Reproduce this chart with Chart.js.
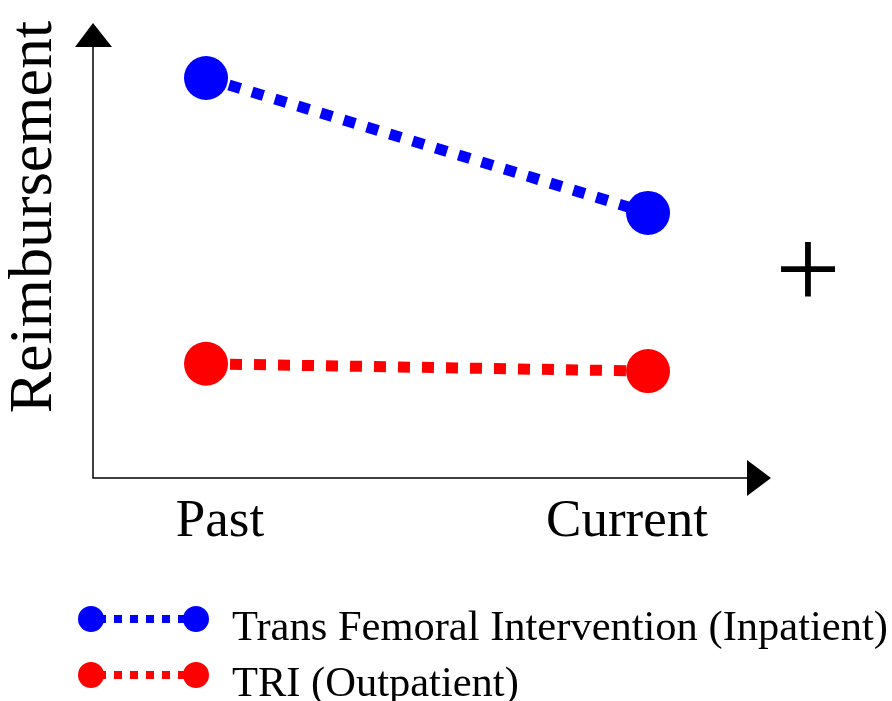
<!DOCTYPE html>
<html>
<head>
<meta charset="utf-8">
<script src="https://cdn.jsdelivr.net/npm/chart.js@4.4.1/dist/chart.umd.min.js"></script>
<style>
  html, body { margin: 0; padding: 0; background: #fff; }
  #wrap { width: 892px; height: 701px; position: relative; }
</style>
</head>
<body>
<div id="wrap"><canvas id="chart"></canvas></div>
<script>
// data (no units on the axis, relative level 0-100)
var categories = ["Past", "Current"]
var femoralValues = [92.8, 61.5]
var triValues = [26.5, 24.8]
var seriesNames = ["Trans Femoral Intervention (Inpatient)", "TRI (Outpatient)"]
var seriesColors = ["#0000ff", "#ff0000"]
var yTitle = "Reimbursement"

var FONT = "'Liberation Serif', 'Times New Roman', serif"

function toPoints(vals){
    return vals.map(function(v, i){ return { x: i, y: v } })
}

// axes with arrows, labels, plus sign and legend
var decor = {
    id: "decor",
    afterDraw: function(chart){
        var ctx = chart.ctx
        var a = chart.chartArea
        var xs = chart.scales.x
        ctx.save()

        // axis lines
        ctx.strokeStyle = "#000"
        ctx.fillStyle = "#000"
        ctx.lineWidth = 1.5
        ctx.beginPath()
        ctx.moveTo(a.left, a.top)
        ctx.lineTo(a.left, a.bottom)
        ctx.lineTo(a.right - 3, a.bottom)
        ctx.stroke()
        // arrow heads
        ctx.beginPath()
        ctx.moveTo(a.left, a.top - 24)
        ctx.lineTo(a.left - 18, a.top)
        ctx.lineTo(a.left + 19, a.top)
        ctx.closePath()
        ctx.fill()
        ctx.beginPath()
        ctx.moveTo(a.right + 21, a.bottom)
        ctx.lineTo(a.right - 3, a.bottom - 18)
        ctx.lineTo(a.right - 3, a.bottom + 18)
        ctx.closePath()
        ctx.fill()

        // x labels
        ctx.font = "53px " + FONT
        ctx.textAlign = "center"
        ctx.textBaseline = "alphabetic"
        categories.forEach(function(c, i){
            var px = xs.getPixelForValue(i) + (i === 0 ? 14 : -21)
            ctx.fillText(c, px, a.bottom + 58)
        })

        // y title
        ctx.save()
        ctx.translate(51, 217)
        ctx.rotate(-Math.PI / 2)
        ctx.font = "62px " + FONT
        ctx.fillText(yTitle, 0, 0)
        ctx.restore()

        // plus sign
        ctx.font = "116px " + FONT
        ctx.fillText("+", 808, 308)

        // legend
        var rows = [619, 675]
        seriesNames.forEach(function(name, i){
            var y = rows[i]
            ctx.strokeStyle = seriesColors[i]
            ctx.fillStyle = seriesColors[i]
            ctx.lineWidth = 8
            ctx.setLineDash([8, 8])
            ctx.beginPath()
            ctx.moveTo(98, y)
            ctx.lineTo(190, y)
            ctx.stroke()
            ctx.setLineDash([])
            ctx.beginPath()
            ctx.arc(91, y, 13, 0, Math.PI * 2)
            ctx.fill()
            ctx.beginPath()
            ctx.arc(196, y, 13, 0, Math.PI * 2)
            ctx.fill()
            ctx.fillStyle = "#000"
            ctx.font = "42.5px " + FONT
            ctx.textAlign = "left"
            ctx.fillText(name, 232, y + 21)
        })
        ctx.restore()
    }
}

function makeSet(label, vals, color){
    return {
        label: label,
        data: toPoints(vals),
        borderColor: color,
        backgroundColor: color,
        borderWidth: 11,
        borderDash: [12, 12],
        borderCapStyle: "butt",
        pointRadius: 22,
        pointHoverRadius: 22,
        pointBorderWidth: 0,
        pointBackgroundColor: color,
        clip: false,
        tension: 0
    }
}

new Chart(document.getElementById("chart"), {
    type: "line",
    data: {
        datasets: [
            makeSet(seriesNames[0], femoralValues, seriesColors[0]),
            makeSet(seriesNames[1], triValues, seriesColors[1])
        ]
    },
    options: {
        responsive: true,
        maintainAspectRatio: false,
        animation: false,
        layout: { padding: { left: 93, right: 142, top: 47, bottom: 223 } },
        plugins: {
            legend: { display: false },
            tooltip: { enabled: false }
        },
        scales: {
            x: { type: "linear", min: -0.2557, max: 1.2307, display: false },
            y: { min: 0, max: 100, display: false }
        }
    },
    plugins: [decor]
})
</script>
</body>
</html>
